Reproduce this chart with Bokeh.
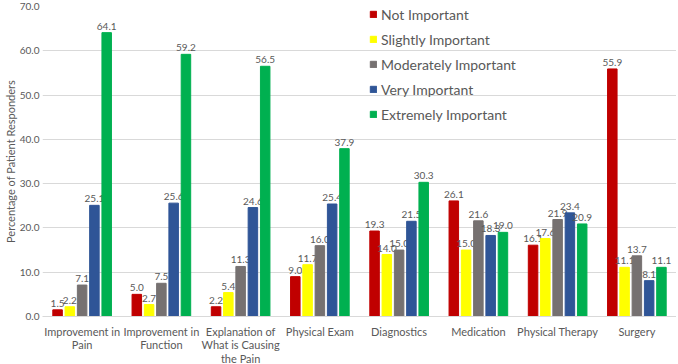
from bokeh.plotting import figure
from bokeh.models import ColumnDataSource, FixedTicker, Legend, LegendItem, Range1d
from bokeh.core.properties import value
from bokeh.embed import file_html
from bokeh.resources import INLINE

categories = ["Improvement in\nPain", "Improvement in\nFunction", "Explanation of\nWhat is Causing\nthe Pain",
              "Physical Exam", "Diagnostics", "Medication", "Physical Therapy", "Surgery"]
series = ["Not Important", "Slightly Important", "Moderately Important", "Very Important", "Extremely Important"]
not_important = [1.5, 5.0, 2.2, 9.0, 19.3, 26.1, 16.1, 55.9]
slightly_important = [2.2, 2.7, 5.4, 11.7, 14.0, 15.0, 17.6, 11.1]
moderately_important = [7.1, 7.5, 11.3, 16.0, 15.0, 21.6, 21.9, 13.7]
very_important = [25.1, 25.6, 24.6, 25.4, 21.5, 18.3, 23.4, 8.1]
extremely_important = [64.1, 59.2, 56.5, 37.9, 30.3, 19.0, 20.9, 11.1]
y_ticks = [0, 10, 20, 30, 40, 50, 60, 70]

values = [not_important, slightly_important, moderately_important, very_important, extremely_important]
colors = ["#C00000", "#FFFF00", "#767171", "#2F5597", "#00B050"]

FONT = "Lato"
GRAY = "#595959"

FH = 310
p = figure(frame_width=634, frame_height=FH, output_backend="svg", toolbar_location=None,
           x_range=Range1d(-0.5, len(categories) - 0.5), y_range=Range1d(0, 70))
p.min_border_left = 5
p.min_border_right = 0
p.min_border_top = 6
p.min_border_bottom = 5
p.outline_line_color = None
p.background_fill_color = "white"

xs = list(range(len(categories)))
slot = 0.155
bw = 0.12
items = []
for i, (name, vals, col) in enumerate(zip(series, values, colors)):
    off = (i - 2) * slot
    src = ColumnDataSource(dict(x=[x + off for x in xs], top=vals,
                                lab=[f"{v:.1f}" for v in vals]))
    r = p.vbar(x="x", top="top", width=bw, source=src, fill_color=col, line_color=col)
    p.text(x="x", y="top", text="lab", source=src, text_align="center", text_baseline="bottom",
           y_offset=-3, text_font=value(FONT), text_font_size="10px", text_color=GRAY)
    items.append(LegendItem(label=name, renderers=[r]))

legend = Legend(items=items, location=(327, FH - 118))
legend.border_line_color = None
legend.background_fill_alpha = 0
legend.label_text_font = FONT
legend.label_text_font_size = "14px"
legend.label_text_color = GRAY
legend.glyph_width = 8
legend.glyph_height = 8
legend.spacing = 5
legend.label_height = 20
legend.label_standoff = 4
legend.padding = 0
legend.margin = 0
p.add_layout(legend)

p.xaxis.ticker = FixedTicker(ticks=xs)
p.xaxis.major_label_overrides = {i: c for i, c in enumerate(categories)}
p.xaxis.major_tick_line_color = None
p.xaxis.major_tick_out = 0
p.xaxis.major_tick_in = 0
p.xaxis.minor_tick_line_color = None
p.xaxis.axis_line_color = "#D9D9D9"
p.xaxis.major_label_text_font = FONT
p.xaxis.major_label_text_font_size = "11px"
p.xaxis.major_label_text_line_height = 1.05
p.xaxis.major_label_text_color = GRAY
p.xaxis.major_label_standoff = 8

p.yaxis.ticker = FixedTicker(ticks=y_ticks)
p.yaxis.major_label_overrides = {t: f"{t:.1f}" for t in y_ticks}
p.yaxis.axis_line_color = None
p.yaxis.major_tick_line_color = None
p.yaxis.major_tick_out = 0
p.yaxis.major_tick_in = 0
p.yaxis.minor_tick_line_color = None
p.yaxis.major_label_text_font = FONT
p.yaxis.major_label_text_font_size = "10px"
p.yaxis.major_label_text_color = GRAY
p.yaxis.major_label_standoff = 3
p.yaxis.axis_label = "Percentage of Patient Responders"
p.yaxis.axis_label_text_font = FONT
p.yaxis.axis_label_text_font_size = "11px"
p.yaxis.axis_label_text_font_style = "normal"
p.yaxis.axis_label_text_color = GRAY
p.yaxis.axis_label_standoff = 0

p.xgrid.grid_line_color = None
p.ygrid.grid_line_color = "#D9D9D9"

open("out.html", "w").write(file_html(p, INLINE))
